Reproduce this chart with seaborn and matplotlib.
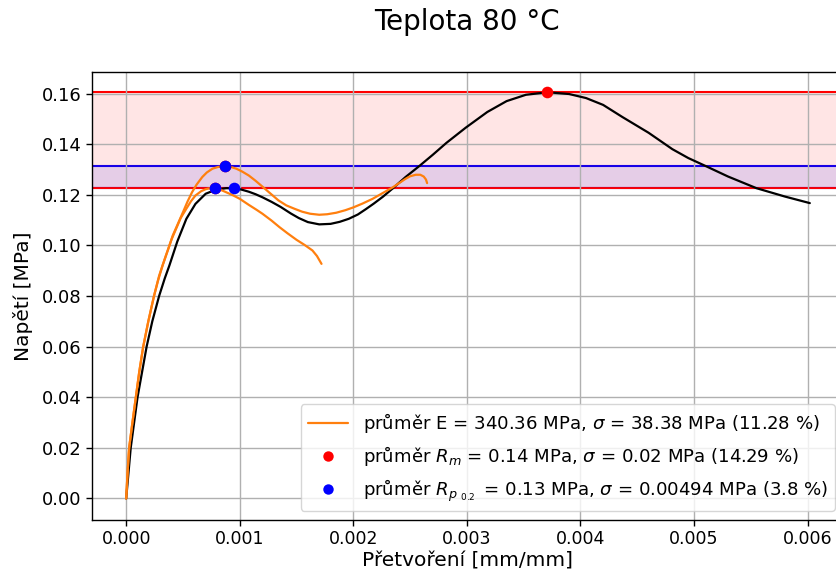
import matplotlib
matplotlib.use("Agg")
import matplotlib.pyplot as plt
from matplotlib.lines import Line2D
import seaborn as sns
import pandas as pd

# ---- data ----
black_x = [0.0, 0.00002, 0.00004, 0.00007, 0.0001, 0.00014, 0.00018, 0.00023, 0.00029, 0.00034,
           0.00038, 0.00045, 0.00053, 0.00061, 0.0007, 0.00079, 0.00088, 0.00095, 0.00101, 0.00108,
           0.00114, 0.0012, 0.00128, 0.00136, 0.00145, 0.00152, 0.0016, 0.0017, 0.0018, 0.00188,
           0.00196, 0.00204, 0.00211, 0.00218, 0.00226, 0.00235, 0.00246, 0.00258, 0.0027, 0.00282,
           0.00299, 0.00318, 0.00335, 0.00352, 0.00371, 0.0039, 0.00405, 0.0042, 0.00437, 0.0046,
           0.00481, 0.00495, 0.00511, 0.0053, 0.00555, 0.0058, 0.00602]
black_y = [0.0, 0.01, 0.02, 0.03, 0.04, 0.05, 0.06, 0.07, 0.08, 0.087,
           0.092, 0.1015, 0.1105, 0.1164, 0.1204, 0.122, 0.1226, 0.1226, 0.1221, 0.1212,
           0.1202, 0.119, 0.1172, 0.1152, 0.1126, 0.1108, 0.1092, 0.1083, 0.1085, 0.1093,
           0.1105, 0.1122, 0.1143, 0.1165, 0.1192, 0.1226, 0.127, 0.1313, 0.1358, 0.1405,
           0.1465, 0.1527, 0.157, 0.1595, 0.1605, 0.1598, 0.1582, 0.1555, 0.1507, 0.1445,
           0.138, 0.1345, 0.1312, 0.1272, 0.1226, 0.1193, 0.1167]

orange1_x = [0.0, 0.000012, 0.000026, 0.000055, 0.000085, 0.000115, 0.00015, 0.000195, 0.000245, 0.00028,
             0.00032, 0.00037, 0.00041, 0.00046, 0.0005, 0.00054, 0.00058, 0.00062, 0.00067, 0.00071,
             0.00076, 0.00081, 0.00087, 0.00092, 0.00097, 0.00102, 0.00108, 0.00114, 0.0012, 0.00127,
             0.00134, 0.00141, 0.00148, 0.00155, 0.00162, 0.0017, 0.00177, 0.00185, 0.00193, 0.002,
             0.00208, 0.00217, 0.00226, 0.00235, 0.00241, 0.00246, 0.0025, 0.00255, 0.00259, 0.00262,
             0.00264, 0.00265]
orange1_y = [0.0, 0.01, 0.02, 0.03, 0.04, 0.05, 0.06, 0.07, 0.08, 0.086,
             0.092, 0.0985, 0.1039, 0.109, 0.1131, 0.1173, 0.121, 0.124, 0.127, 0.1288,
             0.1303, 0.131, 0.1312, 0.131, 0.1303, 0.1292, 0.1276, 0.1255, 0.1232, 0.1205,
             0.1178, 0.1158, 0.1145, 0.1133, 0.1125, 0.1121, 0.1123, 0.1129, 0.1139, 0.115,
             0.1165, 0.1184, 0.1207, 0.123, 0.1248, 0.1263, 0.1273, 0.1279, 0.1279, 0.1272,
             0.126, 0.1246]

orange2_x = [0.0, 0.000012, 0.000026, 0.000055, 0.000085, 0.000115, 0.00015, 0.000195, 0.000245, 0.00029,
             0.00035, 0.0004, 0.00044, 0.00048, 0.00053, 0.00057, 0.00061, 0.00066, 0.0007, 0.00074,
             0.00078, 0.00083, 0.00088, 0.00094, 0.001, 0.00108, 0.00115, 0.0012, 0.00128, 0.00135,
             0.00142, 0.0015, 0.00157, 0.00164, 0.00168, 0.00172]
orange2_y = [0.0, 0.01, 0.02, 0.03, 0.04, 0.05, 0.06, 0.07, 0.08, 0.088,
             0.096, 0.1024, 0.1066, 0.1108, 0.1145, 0.1174, 0.1197, 0.1214, 0.1222, 0.1226,
             0.1226, 0.122, 0.121, 0.1198, 0.1184, 0.116, 0.114, 0.1125, 0.1098, 0.1072,
             0.1048, 0.1022, 0.1002, 0.098, 0.0958, 0.0927]

rm_x = [0.00371, 0.00087, 0.00078]
rm_y = [0.1605, 0.1312, 0.1226]
rp_x = [0.00087, 0.00078, 0.00095]
rp_y = [0.1312, 0.1226, 0.1226]

title = "Teplota 80 °C"
xlabel = "Přetvoření [mm/mm]"
ylabel = "Napětí [MPa]"
xtick_vals = [0.0, 0.001, 0.002, 0.003, 0.004, 0.005, 0.006]
xtick_labels = ["0.000", "0.001", "0.002", "0.003", "0.004", "0.005", "0.006"]
ytick_vals = [0.0, 0.02, 0.04, 0.06, 0.08, 0.10, 0.12, 0.14, 0.16]
ytick_labels = ["0.00", "0.02", "0.04", "0.06", "0.08", "0.10", "0.12", "0.14", "0.16"]
leg_labels = [
    "průměr E = 340.36 MPa, $\\sigma$ = 38.38 MPa (11.28 %)",
    "průměr $R_m$ = 0.14 MPa, $\\sigma$ = 0.02 MPa (14.29 %)",
    "průměr $R_{p\\ _{0.2}}\\,$ = 0.13 MPa, $\\sigma$ = 0.00494 MPa (3.8 %)",
]

# ---- styling ----
sns.set_style("ticks", {"axes.edgecolor": "black", "xtick.color": "black",
                        "ytick.color": "black", "text.color": "black",
                        "axes.labelcolor": "black"})
plt.rcParams["font.family"] = ["DejaVu Sans"]

fig = plt.figure(figsize=(8.37, 5.74), dpi=100)
ax = fig.add_axes([92 / 837, 1 - 520 / 574, (844 - 92) / 837, (520 - 72) / 574])

ORANGE = "#ff7f0e"

# bands and limit lines
ax.axhline(max(rp_y), color="blue", lw=1.5, zorder=1)
ax.axhline(min(rp_y), color="blue", lw=1.5, zorder=1)
ax.axhline(max(rm_y), color="red", lw=1.5, zorder=1.1)
ax.axhline(min(rm_y), color="red", lw=1.5, zorder=1.1)
ax.axhspan(min(rm_y), max(rm_y), color="red", alpha=0.1, lw=0, zorder=1.2)
ax.axhspan(min(rp_y), max(rp_y), color="blue", alpha=0.1, lw=0, zorder=1.3)

df_b = pd.DataFrame({"x": black_x, "y": black_y})
df_o1 = pd.DataFrame({"x": orange1_x, "y": orange1_y})
df_o2 = pd.DataFrame({"x": orange2_x, "y": orange2_y})
sns.lineplot(data=df_b, x="x", y="y", color="black", lw=1.6, sort=False, estimator=None, ax=ax, zorder=3)
sns.lineplot(data=df_o1, x="x", y="y", color=ORANGE, lw=1.6, sort=False, estimator=None, ax=ax, zorder=3)
sns.lineplot(data=df_o2, x="x", y="y", color=ORANGE, lw=1.6, sort=False, estimator=None, ax=ax, zorder=3)

sns.scatterplot(x=rm_x, y=rm_y, color="red", s=70, linewidth=0, ax=ax, zorder=4)
sns.scatterplot(x=rp_x, y=rp_y, color="blue", s=70, linewidth=0, ax=ax, zorder=5)

ax.set_xlim(-0.000301, 0.006321)
ax.set_ylim(-0.0085, 0.1685)
ax.set_xticks(xtick_vals)
ax.set_xticklabels(xtick_labels)
ax.set_yticks(ytick_vals)
ax.set_yticklabels(ytick_labels)
ax.tick_params(axis="x", labelsize=12.5, length=4, width=1)
ax.tick_params(axis="y", labelsize=13, length=4, width=1)
ax.grid(True, color="#b0b0b0", lw=1.0, zorder=2)
ax.set_axisbelow(False)
for s in ax.spines.values():
    s.set_linewidth(1.0)
    s.set_zorder(6)

ax.set_xlabel(xlabel, fontsize=14.5, labelpad=2)
ax.set_ylabel(ylabel, fontsize=14.5, labelpad=6)
fig.suptitle(title, fontsize=20, x=467 / 837, y=1 - 22 / 574, va="center")

handles = [
    Line2D([], [], color=ORANGE, lw=1.6),
    Line2D([], [], color="red", marker="o", ls="none", ms=7.5, mec="none"),
    Line2D([], [], color="blue", marker="o", ls="none", ms=7.5, mec="none"),
]
leg = ax.legend(handles, leg_labels, loc="lower right", fontsize=13.1, framealpha=0.8,
                fancybox=True, edgecolor="#cccccc", handlelength=2.2)
leg.set_zorder(10)

fig.savefig("out.png", dpi=100)
